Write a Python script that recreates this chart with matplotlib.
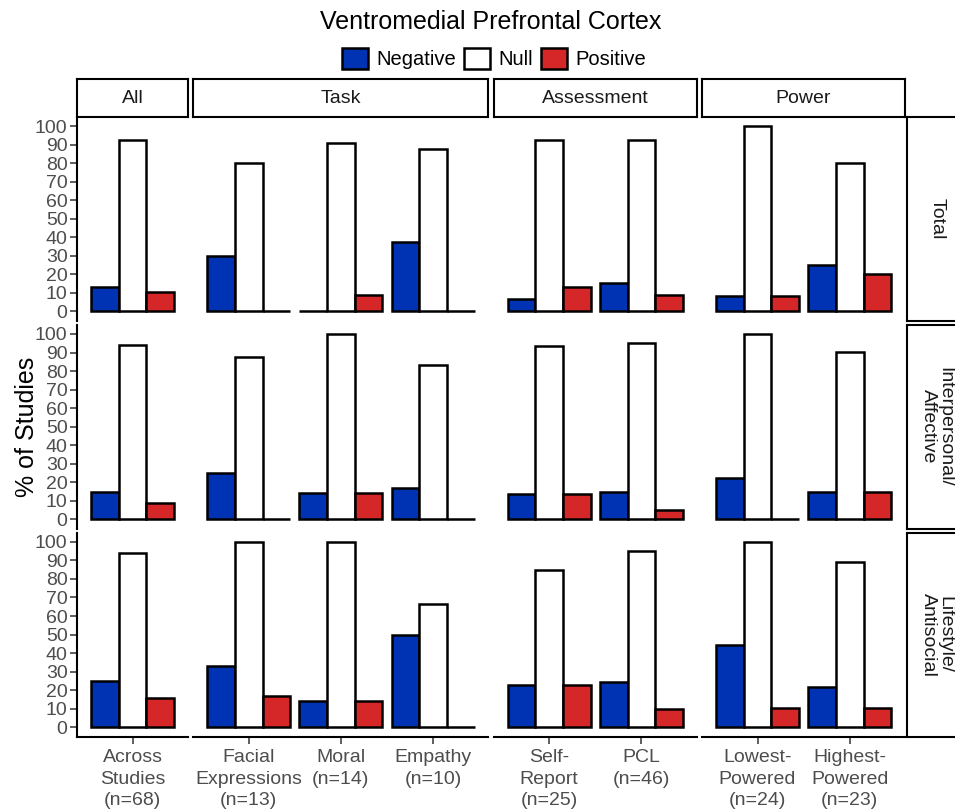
import numpy as np
import matplotlib.pyplot as plt
from matplotlib.patches import Patch

plt.rcParams['font.family'] = ['Liberation Sans', 'DejaVu Sans']

# column groups and the categories shown in each
groups = ["All", "Task", "Assessment", "Power"]
categories = [
    ["Across\nStudies\n(n=68)"],
    ["Facial\nExpressions\n(n=13)", "Moral\n(n=14)", "Empathy\n(n=10)"],
    ["Self-\nReport\n(n=25)", "PCL\n(n=46)"],
    ["Lowest-\nPowered\n(n=24)", "Highest-\nPowered\n(n=23)"],
]
facets = ["Total", "Interpersonal/\nAffective", "Lifestyle/\nAntisocial"]
outcomes = ["Negative", "Null", "Positive"]
colors = ["#0033B3", "#FFFFFF", "#D62728"]

# % of studies per facet row, categories in order left to right
negative = [
    [13, 30, 0, 37.5, 6.5, 15.5, 8.5, 25],
    [15, 25, 14.3, 16.7, 13.5, 15, 22.2, 15],
    [25, 33.3, 14.3, 50, 22.7, 24.6, 44.1, 21.7],
]
null = [
    [92.6, 80, 90.9, 87.5, 92.6, 92.6, 100, 80],
    [94.3, 87.5, 100, 83.3, 93.5, 95, 100, 90.3],
    [93.8, 100, 100, 66.7, 84.6, 95.1, 100, 88.9],
]
positive = [
    [10.3, 0, 9.1, 0, 13, 9, 8.5, 20],
    [9, 0, 14.3, 0, 13.5, 5, 0, 15],
    [15.8, 16.7, 14.3, 0, 22.7, 9.8, 10.6, 10.6],
]
series = [negative, null, positive]

W, H = 955, 811
fig = plt.figure(figsize=(W / 100, H / 100), dpi=100)

# panel grid in pixels
left0, right0 = 77.3, 905.0
top0, bot0 = 116.8, 736.5
gap_x, gap_y = 5.5, 4.0
units = [len(c) + 0.2 for c in categories]
scale = (right0 - left0 - gap_x * (len(groups) - 1)) / sum(units)
row_h = (bot0 - top0 - gap_y * (len(facets) - 1)) / len(facets)
strip_top = 79.3
tick_grey = "#4D4D4D"


def px_axes(x, y, w, h):
    # add axes from pixel box (top-left origin)
    return fig.add_axes([x / W, 1 - (y + h) / H, w / W, h / H])


def strip(ax, text, rot=0):
    ax.set_xticks([])
    ax.set_yticks([])
    ax.set_facecolor("white")
    for s in ax.spines.values():
        s.set_linewidth(1.5)
        s.set_color("black")
    ax.text(0.5, 0.5, text, transform=ax.transAxes, ha="center", va="center",
            fontsize=14, color="#1A1A1A", rotation=rot, linespacing=0.95)


k = 0
x0 = left0
for g, cats in enumerate(categories):
    w = units[g] * scale
    n = len(cats)
    pos = np.arange(1, n + 1)

    # group label on top
    strip(px_axes(x0, strip_top, w, top0 - strip_top), groups[g])

    for r in range(len(facets)):
        y_top = top0 + r * (row_h + gap_y)
        ax = px_axes(x0, y_top, w, row_h)
        for j in range(3):
            vals = series[j][r][k:k + n]
            ax.bar(pos + (j - 1) * 0.3, vals, width=0.3, color=colors[j],
                   edgecolor="black", linewidth=1.8, zorder=3)
        ax.set_xlim(0.4, n + 0.6)
        ax.set_ylim(-5, 105)
        ax.set_facecolor("none")
        for s in ["top", "right"]:
            ax.spines[s].set_visible(False)
        ax.spines["left"].set_visible(g == 0)
        ax.spines["bottom"].set_visible(r == len(facets) - 1)
        ax.spines["left"].set_linewidth(1.5)
        ax.spines["bottom"].set_linewidth(1.5)

        if g == 0:
            ax.set_yticks(np.arange(0, 101, 10))
            ax.tick_params(axis="y", length=5, width=1.1, color="#333333",
                           labelsize=14, labelcolor=tick_grey, pad=2)
        else:
            ax.set_yticks([])

        if r == len(facets) - 1:
            ax.set_xticks(pos)
            ax.set_xticklabels(cats, linespacing=1.35)
            ax.tick_params(axis="x", length=5, width=1.1, color="#333333",
                           labelsize=14, labelcolor=tick_grey, pad=4)
        else:
            ax.set_xticks([])

        # facet label on the right
        if g == len(groups) - 1:
            strip(px_axes(907.3, y_top, 59, row_h), facets[r], rot=-90)

    k += n
    x0 += w + gap_x

fig.text(491 / W, 1 - 22 / H, "Ventromedial Prefrontal Cortex",
         ha="center", va="center", fontsize=18)
fig.text(27 / W, 1 - (top0 + bot0) / 2 / H, "% of Studies", rotation=90,
         ha="center", va="center", fontsize=18)

handles = [Patch(facecolor=c, edgecolor="black", linewidth=1.8) for c in colors]
fig.legend(handles, outcomes, loc="center", ncol=3,
           bbox_to_anchor=(494 / W, 1 - 58.5 / H), frameon=False,
           fontsize=14.5, handlelength=1.3, handleheight=1.25,
           handletextpad=0.4, columnspacing=0.4, borderpad=0)

fig.savefig("out.png", dpi=100)
